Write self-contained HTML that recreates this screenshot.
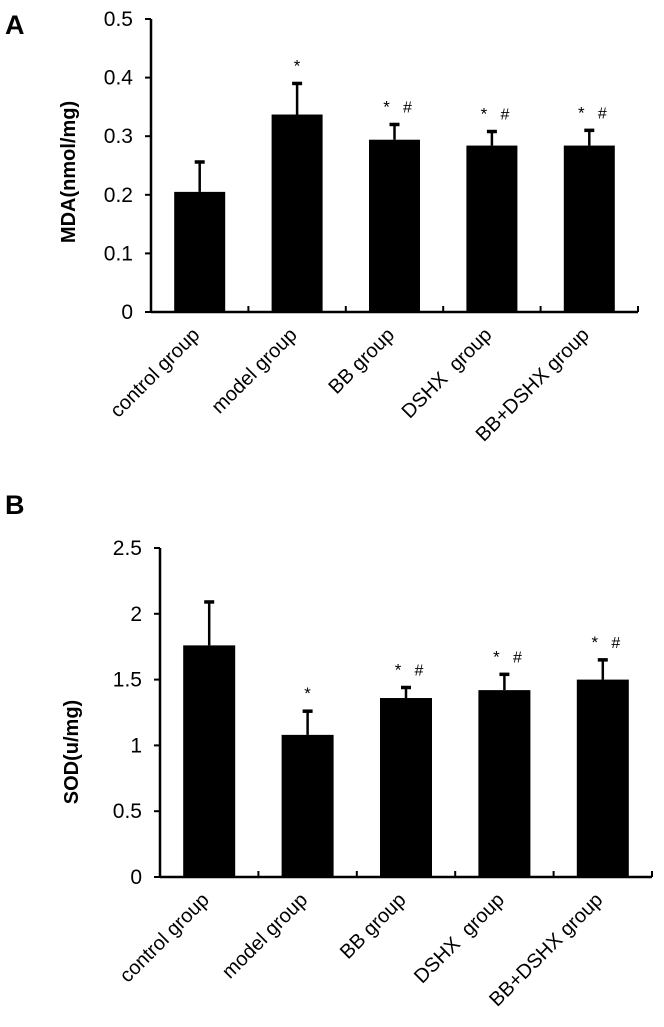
<!DOCTYPE html>
<html><head><meta charset="utf-8">
<style>
html,body{margin:0;padding:0;background:#fff;}
svg{display:block;font-family:"Liberation Sans",sans-serif;}
</style></head>
<body>
<svg id="fig" width="664" height="1027" viewBox="0 0 664 1027" xmlns="http://www.w3.org/2000/svg">
<text x="5" y="34" font-size="27" font-weight="bold">A</text>
<text x="5" y="514" font-size="27" font-weight="bold">B</text>
<g id="chartA"></g>
<g id="chartB"></g>
</svg>
<script>
const categories = ["control group","model group","BB group","DSHX  group","BB+DSHX group"];
const mdaValues = [0.205, 0.337, 0.294, 0.284, 0.284];
const mdaErrors = [0.051, 0.053, 0.026, 0.024, 0.026];
const mdaStar = [false, true, true, true, true];
const mdaHash = [false, false, true, true, true];
const mdaTicks = ["0","0.1","0.2","0.3","0.4","0.5"];
const sodValues = [1.76, 1.08, 1.36, 1.42, 1.50];
const sodErrors = [0.33, 0.18, 0.08, 0.12, 0.15];
const sodStar = [false, true, true, true, true];
const sodHash = [false, false, true, true, true];
const sodTicks = ["0","0.5","1","1.5","2","2.5"];

const NS = "http://www.w3.org/2000/svg";
function mk(parent, tag, attrs, text){
  const e = document.createElementNS(NS, tag);
  for (const k in attrs) e.setAttribute(k, attrs[k]);
  if (text !== undefined) e.textContent = text;
  parent.appendChild(e);
  return e;
}
function draw(g, cfg){
  const {x0, x1, yTop, yZero, yMax, vals, errs, stars, hashes, ticks, title, titleX, titleY, barW, tickRight} = cfg;
  const yS = v => yZero - (v / yMax) * (yZero - yTop);
  const cw = (x1 - x0) / categories.length;
  const xC = i => x0 + cw * (i + 0.5);
  const ya = mk(g, "line", {x1:x0, y1:yTop, x2:x0, y2:yZero+1, stroke:"#000", "stroke-width":2.5});
  
  
  const xa = mk(g, "line", {x1:x0, y1:yZero, x2:x1, y2:yZero, stroke:"#000", "stroke-width":2.5});
  
  
  ticks.forEach(t => {
    const y = yS(parseFloat(t));
    const tk = mk(g, "line", {x1:x0-6, y1:y, x2:x0, y2:y, stroke:"#000", "stroke-width":2});
    
    
    const tl = mk(g, "text", {x:tickRight, y:y+7, "font-size":21, "text-anchor":"end"}, t);
    
    
  });
  for (let i = 1; i <= categories.length; i++) {
    const x = x0 + cw * i;
    const tk = mk(g, "line", {x1:x, y1:yZero, x2:x, y2:yZero-6, stroke:"#000", "stroke-width":2});
    
    
  }
  const tt = mk(g, "text", {x:0, y:0, "font-size":20, "font-weight":"bold", "text-anchor":"middle",
    transform:`translate(${titleX},${titleY}) rotate(-90)`}, title);
  
  
  vals.forEach((v, i) => {
    const cx = xC(i);
    const top = yS(v + errs[i]);
    const el = mk(g, "line", {x1:cx, y1:yS(v), x2:cx, y2:top, stroke:"#000", "stroke-width":2.5});
    
    
    const cap = mk(g, "line", {x1:cx-5, y1:top, x2:cx+5, y2:top, stroke:"#000", "stroke-width":3.5});
    
    
    const b = mk(g, "rect", {x:cx-barW/2, y:yS(v), width:barW, height:yZero-yS(v), fill:"#000"});
    
    
    if (stars[i]) {
      const sx = hashes[i] ? cx-8 : cx;
      const s = mk(g, "text", {x:sx, y:top-12, "font-size":17, "text-anchor":"middle"}, "*");
      
      
    }
    if (hashes[i]) {
      const h = mk(g, "text", {x:cx+13, y:top-12, "font-size":16, "text-anchor":"middle"}, "#");
      
      
    }
    const lab = mk(g, "text", {x:0, y:0, "font-size":20, "text-anchor":"end", style:"white-space:pre",
      transform:`translate(${cx+1},${yZero+24}) rotate(-45)`}, categories[i]);
    
    
  });
}
draw(document.getElementById("chartA"), {x0:151, x1:638, yTop:19, yZero:312, yMax:0.5,
  vals:mdaValues, errs:mdaErrors, stars:mdaStar, hashes:mdaHash, ticks:mdaTicks, title:"MDA(nmol/mg)",
  titleX:75, titleY:172, barW:51, tickRight:133});
draw(document.getElementById("chartB"), {x0:160, x1:652, yTop:548, yZero:877, yMax:2.5,
  vals:sodValues, errs:sodErrors, stars:sodStar, hashes:sodHash, ticks:sodTicks, title:"SOD(u/mg)",
  titleX:78, titleY:752, barW:52, tickRight:142});
</script>
</body></html>
